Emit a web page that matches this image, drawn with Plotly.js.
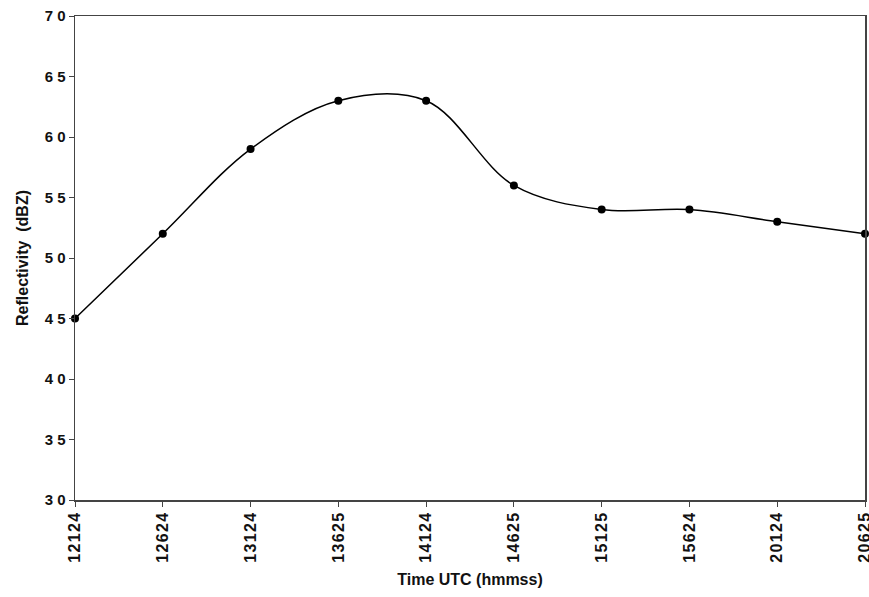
<!DOCTYPE html>
<html><head><meta charset="utf-8">
<script src="https://cdn.plot.ly/plotly-3.0.1.min.js"></script>
<style>html,body{margin:0;padding:0;background:#fff}</style>
</head><body><div id="chart" style="width:869px;height:597px"></div>
<script>
const times = ["12124","12624","13124","13625","14124","14625","15125","15624","20124","20625"];
const reflectivity = [45, 52, 59, 63, 63, 56, 54, 54, 53, 52];
const yTicks = [30, 35, 40, 45, 50, 55, 60, 65, 70];
const yTickText = ["3 0","3 5","4 0","4 5","5 0","5 5","6 0","6 5","7 0"];

const spaced = s => s.split("").join("\u200A");
const font = {family: "Liberation Sans, Arial, sans-serif", color: "#111"};
Plotly.newPlot("chart", [{
  x: times, y: reflectivity, type: "scatter", mode: "lines+markers",
  line: {shape: "spline", smoothing: 1, color: "#000", width: 1.5},
  marker: {size: 8, color: "#000"},
  cliponaxis: false, hoverinfo: "skip"
}], {
  width: 869, height: 597,
  margin: {l: 75, r: 4, t: 16, b: 97},
  paper_bgcolor: "#fff", plot_bgcolor: "#fff",
  showlegend: false,
  xaxis: {
    type: "category", range: [0, times.length - 1],
    tickvals: times, ticktext: times.map(spaced),
    tickangle: -90, ticks: "outside", ticklen: 5, tickcolor: "#444",
    showline: true, linecolor: "#444", linewidth: 1.5, mirror: true,
    showgrid: false, zeroline: false,
    tickfont: Object.assign({size: 16, weight: "bold"}, font),
    title: {text: "<b>Time UTC (hmmss)</b>", font: Object.assign({size: 16}, font), standoff: 12}
  },
  yaxis: {
    range: [30, 70], tickvals: yTicks, ticktext: yTickText,
    ticks: "outside", ticklen: 5, tickcolor: "#444",
    showline: true, linecolor: "#444", linewidth: 1.5, mirror: true,
    showgrid: false, zeroline: false,
    tickfont: Object.assign({size: 15, weight: "bold"}, font),
    title: {text: "<b>Reflectivity  (dBZ)</b>", font: Object.assign({size: 16}, font), standoff: 12}
  }
}, {displayModeBar: false, staticPlot: true});
</script></body></html>
